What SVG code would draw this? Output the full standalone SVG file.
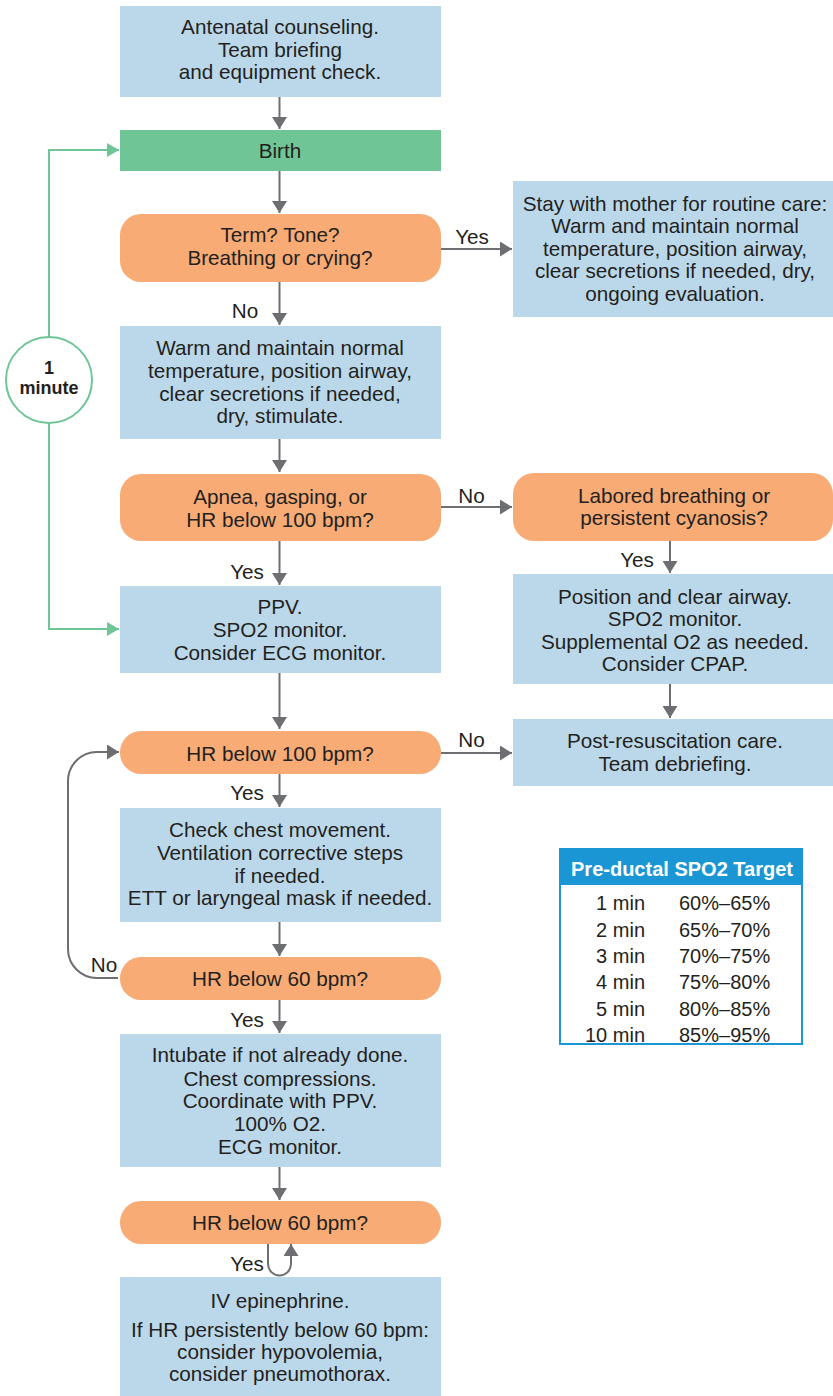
<svg xmlns="http://www.w3.org/2000/svg" width="833" height="1396" viewBox="0 0 833 1396">
<defs>
<style>
text{font-family:"Liberation Sans",Arial,sans-serif;font-size:20.7px;fill:#231f20;text-anchor:middle}
.box{fill:#bbd8ea}
.dec{fill:#f8ab74}
.start{fill:#70c596}
.conn{fill:none;stroke:#6d6e71;stroke-width:2}
.gconn{fill:none;stroke:#70c596;stroke-width:2}
.bold{font-weight:bold}
.tm{font-size:18px}
.tb{font-size:20px}
.l{text-anchor:start}
.r{text-anchor:end}
</style>
<marker id="ah" viewBox="0 0 12 15" refX="12" refY="7.5" markerWidth="12" markerHeight="15" markerUnits="userSpaceOnUse" orient="auto"><path d="M0,0 L12,7.5 L0,15 z" fill="#6d6e71"/></marker>
<marker id="gh" viewBox="0 0 12 14" refX="12" refY="7" markerWidth="12" markerHeight="14" markerUnits="userSpaceOnUse" orient="auto"><path d="M0,0 L12,7 L0,14 z" fill="#70c596"/></marker>
</defs>
<rect width="833" height="1396" fill="#ffffff"/>

<g id="connectors">
<path class="conn" d="M279.5,97 V129" marker-end="url(#ah)"/>
<path class="conn" d="M279.5,171 V213" marker-end="url(#ah)"/>
<path class="conn" d="M279.5,282 V325" marker-end="url(#ah)"/>
<path class="conn" d="M279.5,439 V472" marker-end="url(#ah)"/>
<path class="conn" d="M279.5,541 V585" marker-end="url(#ah)"/>
<path class="conn" d="M279.5,673 V729" marker-end="url(#ah)"/>
<path class="conn" d="M279.5,774 V807" marker-end="url(#ah)"/>
<path class="conn" d="M279.5,922 V956" marker-end="url(#ah)"/>
<path class="conn" d="M279.5,1000 V1033" marker-end="url(#ah)"/>
<path class="conn" d="M279.5,1167 V1200" marker-end="url(#ah)"/>
<path class="conn" d="M268,1244 V1264 A11.5,11.5 0 0 0 291,1264 V1244" marker-end="url(#ah)"/>
<path class="conn" d="M441,249 H512" marker-end="url(#ah)"/>
<path class="conn" d="M441,507 H512" marker-end="url(#ah)"/>
<path class="conn" d="M441,753 H512" marker-end="url(#ah)"/>
<path class="conn" d="M670,541 V573" marker-end="url(#ah)"/>
<path class="conn" d="M670,684 V718" marker-end="url(#ah)"/>
<path class="conn" d="M118,978 H97 A29,29 0 0 1 68,949 V781 A29,29 0 0 1 97,752 H119" marker-end="url(#ah)"/>
<path class="gconn" d="M49,337 V150 H119" marker-end="url(#gh)"/>
<path class="gconn" d="M49,423 V629 H119" marker-end="url(#gh)"/>
<text x="245" y="318">No</text>
<text x="247" y="579">Yes</text>
<text x="247" y="800">Yes</text>
<text x="104" y="971.5">No</text>
<text x="247" y="1027">Yes</text>
<text x="247" y="1271">Yes</text>
<text x="472" y="243.5">Yes</text>
<text x="471.5" y="502.5">No</text>
<text x="637" y="567">Yes</text>
<text x="471.5" y="747">No</text>
</g>

<g id="timer">
<circle cx="49" cy="380" r="43" fill="#ffffff" stroke="#70c596" stroke-width="2"/>
<text class="bold tm" x="49" y="374">1</text>
<text class="bold tm" x="49" y="394">minute</text>
</g>

<g id="n-antenatal">
<rect class="box" x="120" y="6" width="321" height="91"/>
<text x="280" y="34">Antenatal counseling.</text>
<text x="280" y="56.5">Team briefing</text>
<text x="280" y="79">and equipment check.</text>
</g>

<g id="n-birth">
<rect class="start" x="120" y="130" width="321" height="41"/>
<text x="280" y="158">Birth</text>
</g>

<g id="n-term">
<rect class="dec" x="120" y="214" width="321" height="68" rx="21"/>
<text x="280" y="242">Term? Tone?</text>
<text x="280" y="265">Breathing or crying?</text>
</g>

<g id="n-routine">
<rect class="box" x="513" y="181" width="320" height="136"/>
<text x="675" y="210.5">Stay with mother for routine care:</text>
<text x="675" y="233">Warm and maintain normal</text>
<text x="675" y="255.5">temperature, position airway,</text>
<text x="675" y="278">clear secretions if needed, dry,</text>
<text x="675" y="300.5">ongoing evaluation.</text>
</g>

<g id="n-warm">
<rect class="box" x="120" y="326" width="321" height="113"/>
<text x="280" y="355">Warm and maintain normal</text>
<text x="280" y="378">temperature, position airway,</text>
<text x="280" y="400.5">clear secretions if needed,</text>
<text x="280" y="423">dry, stimulate.</text>
</g>

<g id="n-apnea">
<rect class="dec" x="120" y="474" width="321" height="67" rx="21"/>
<text x="280" y="503.5">Apnea, gasping, or</text>
<text x="280" y="527">HR below 100 bpm?</text>
</g>

<g id="n-labored">
<rect class="dec" x="513" y="473" width="320" height="68" rx="21"/>
<text x="674" y="502.5">Labored breathing or</text>
<text x="674" y="525">persistent cyanosis?</text>
</g>

<g id="n-position">
<rect class="box" x="513" y="574" width="320" height="110"/>
<text x="675" y="603.5">Position and clear airway.</text>
<text x="675" y="626">SPO2 monitor.</text>
<text x="675" y="648.5">Supplemental O2 as needed.</text>
<text x="675" y="671">Consider CPAP.</text>
</g>

<g id="n-ppv">
<rect class="box" x="120" y="586" width="321" height="87"/>
<text x="280" y="614">PPV.</text>
<text x="280" y="637">SPO2 monitor.</text>
<text x="280" y="659.5">Consider ECG monitor.</text>
</g>

<g id="n-hr100">
<rect class="dec" x="120" y="731" width="321" height="43" rx="21"/>
<text x="280" y="761">HR below 100 bpm?</text>
</g>

<g id="n-post">
<rect class="box" x="513" y="719" width="320" height="67"/>
<text x="675" y="748">Post-resuscitation care.</text>
<text x="675" y="771">Team debriefing.</text>
</g>

<g id="n-check">
<rect class="box" x="120" y="808" width="321" height="114"/>
<text x="280" y="837">Check chest movement.</text>
<text x="280" y="860">Ventilation corrective steps</text>
<text x="280" y="882.5">if needed.</text>
<text x="280" y="905">ETT or laryngeal mask if needed.</text>
</g>

<g id="n-hr60a">
<rect class="dec" x="120" y="957" width="321" height="43" rx="21"/>
<text x="280" y="985.5">HR below 60 bpm?</text>
</g>

<g id="n-intubate">
<rect class="box" x="120" y="1034" width="321" height="133"/>
<text x="280" y="1062">Intubate if not already done.</text>
<text x="280" y="1085.5">Chest compressions.</text>
<text x="280" y="1108">Coordinate with PPV.</text>
<text x="280" y="1130.5">100% O2.</text>
<text x="280" y="1153.5">ECG monitor.</text>
</g>

<g id="n-hr60b">
<rect class="dec" x="120" y="1201" width="321" height="43" rx="21"/>
<text x="280" y="1229.5">HR below 60 bpm?</text>
</g>

<g id="n-epi">
<rect class="box" x="120" y="1277" width="321" height="119"/>
<text x="280" y="1307.5">IV epinephrine.</text>
<text x="280" y="1337">If HR persistently below 60 bpm:</text>
<text x="280" y="1358.5">consider hypovolemia,</text>
<text x="280" y="1380.5">consider pneumothorax.</text>
</g>

<g id="n-table">
<rect x="560" y="849" width="242" height="195" fill="#ffffff" stroke="#1a96d4" stroke-width="2"/>
<rect x="560" y="849" width="242" height="36" fill="#1a96d4"/>
<text class="bold tb" x="682" y="876" style="fill:#ffffff">Pre-ductal SPO2 Target</text>
<text class="r tb" x="645" y="910">1 min</text><text class="l tb" x="679" y="910">60%–65%</text>
<text class="r tb" x="645" y="936.5">2 min</text><text class="l tb" x="679" y="936.5">65%–70%</text>
<text class="r tb" x="645" y="963">3 min</text><text class="l tb" x="679" y="963">70%–75%</text>
<text class="r tb" x="645" y="989">4 min</text><text class="l tb" x="679" y="989">75%–80%</text>
<text class="r tb" x="645" y="1015.5">5 min</text><text class="l tb" x="679" y="1015.5">80%–85%</text>
<text class="r tb" x="645" y="1041.5">10 min</text><text class="l tb" x="679" y="1041.5">85%–95%</text>
</g>
</svg>
